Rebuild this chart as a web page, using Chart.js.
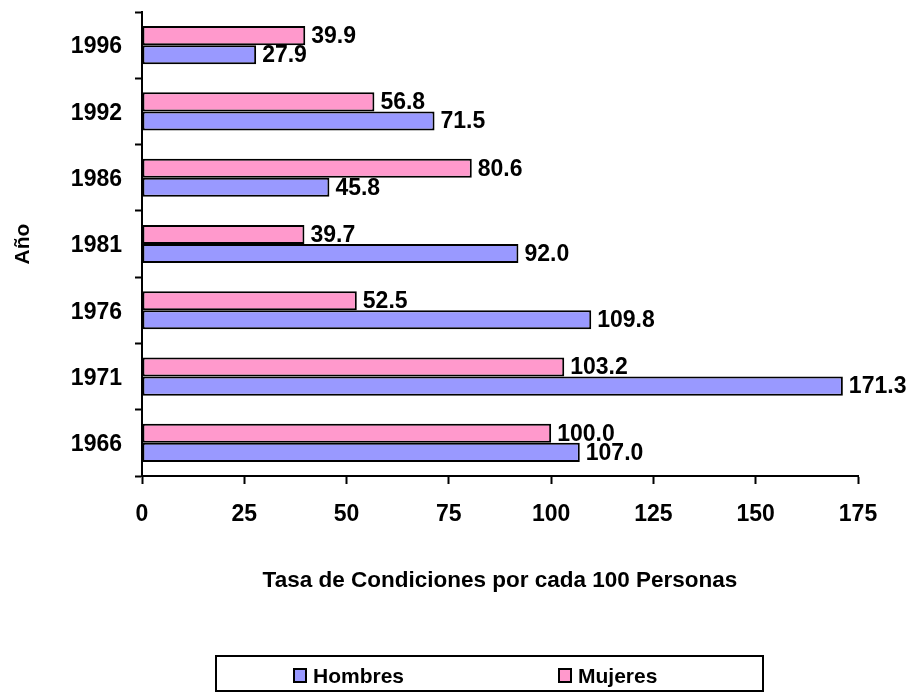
<!DOCTYPE html>
<html>
<head>
<meta charset="utf-8">
<script src="https://cdn.jsdelivr.net/npm/chart.js@4"></script>
<style>
  body { margin: 0; background: #fff; }
  #wrap { width: 920px; height: 696px; }
</style>
</head>
<body>
<div id="wrap"><canvas id="chart_tasa"></canvas></div>
<script>
var years = ["1996", "1992", "1986", "1981", "1976", "1971", "1966"];
var hombres = [27.9, 71.5, 45.8, 92.0, 109.8, 171.3, 107.0];
var mujeres = [39.9, 56.8, 80.6, 39.7, 52.5, 103.2, 100.0];
var xMin = 0, xMax = 175, xStep = 25;

var FONT = "'Liberation Sans', Arial, sans-serif";

// value labels at the end of each bar
var barLabels = {
  id: "barLabels",
  afterDatasetsDraw: function (chart) {
    var ctx = chart.ctx;
    ctx.save();
    ctx.font = "bold 23px " + FONT;
    ctx.fillStyle = "#000";
    ctx.textAlign = "left";
    ctx.textBaseline = "middle";
    chart.data.datasets.forEach(function (ds, i) {
      chart.getDatasetMeta(i).data.forEach(function (bar, j) {
        ctx.fillText(ds.data[j].toFixed(1), bar.x + 6, bar.y + 1);
      });
    });
    ctx.restore();
  }
};

// boxed legend under the chart, Hombres first
var boxLegend = {
  id: "boxLegend",
  afterDraw: function (chart) {
    var ctx = chart.ctx;
    ctx.save();
    ctx.strokeStyle = "#000";
    ctx.lineWidth = 2;
    ctx.strokeRect(216, 656, 547, 35);
    ctx.font = "bold 21px " + FONT;
    ctx.fillStyle = "#000";
    ctx.textBaseline = "alphabetic";
    var slots = [294, 559];
    var items = chart.data.datasets.slice().reverse();
    items.forEach(function (ds, k) {
      var x = slots[k];
      ctx.fillStyle = ds.backgroundColor;
      ctx.fillRect(x, 669, 12, 13);
      ctx.strokeRect(x, 669, 12, 13);
      ctx.fillStyle = "#000";
      ctx.fillText(ds.label, x + 19, 683);
    });
    ctx.restore();
  }
};

var ctx = document.getElementById("chart_tasa").getContext("2d");
var chart = new Chart(ctx, {
  type: "bar",
  data: {
    labels: years,
    datasets: [
      { label: "Mujeres", data: mujeres, backgroundColor: "#FF99CC", borderColor: "#000", borderWidth: 2, borderSkipped: false },
      { label: "Hombres", data: hombres, backgroundColor: "#9999FF", borderColor: "#000", borderWidth: 2, borderSkipped: false }
    ]
  },
  options: {
    indexAxis: "y",
    responsive: true,
    maintainAspectRatio: false,
    animation: false,
    categoryPercentage: 0.575,
    barPercentage: 1.0,
    layout: { padding: { top: 12, right: 62, bottom: 95, left: 0 } },
    plugins: {
      legend: { display: false },
      tooltip: { enabled: false }
    },
    scales: {
      x: {
        min: xMin,
        max: xMax,
        ticks: { stepSize: xStep, color: "#000", font: { family: FONT, size: 23, weight: "bold" }, padding: 17, maxRotation: 0 },
        grid: { drawOnChartArea: false, drawTicks: true, tickLength: 8, tickColor: "#000", tickWidth: 2 },
        border: { display: true, color: "#000", width: 2 },
        title: { display: true, text: "Tasa de Condiciones por cada 100 Personas", color: "#000", font: { family: FONT, size: 22.5, weight: "bold" }, padding: { top: 0, bottom: 7 } },
        afterFit: function (s) { s.height = 125; }
      },
      y: {
        ticks: { color: "#000", font: { family: FONT, size: 23, weight: "bold" }, padding: 13, labelOffset: 2 },
        grid: { drawOnChartArea: false, drawTicks: true, tickLength: 7, tickColor: "#000", tickWidth: 2 },
        border: { display: true, color: "#000", width: 2 },
        title: { display: true, text: "Año", color: "#000", font: { family: FONT, size: 21, weight: "bold" }, padding: { top: 11, bottom: 0 } },
        afterFit: function (s) { s.width = 142; s.paddingTop = 0; s.paddingBottom = 0; }
      }
    }
  },
  plugins: [barLabels, boxLegend]
});
</script>
</body>
</html>
